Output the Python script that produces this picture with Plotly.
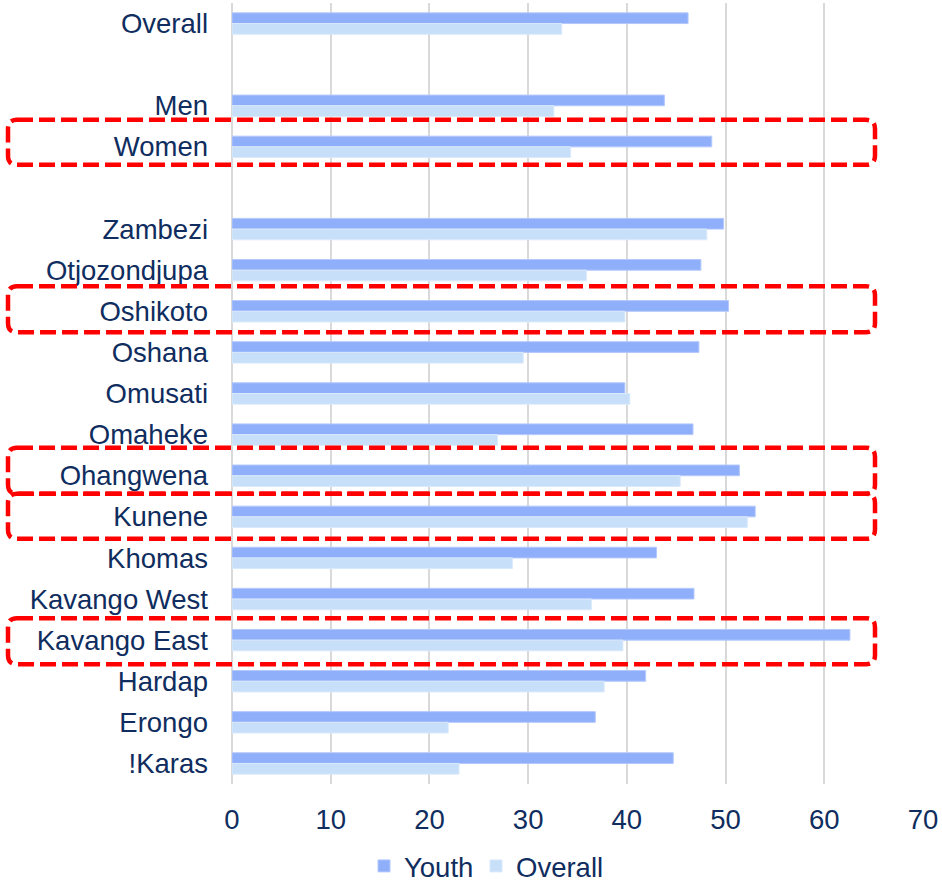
import plotly.graph_objects as go

# Rows from top to bottom; blank labels are spacer rows between groups
categories = ["Overall", "", "Men", "Women", " ",
              "Zambezi", "Otjozondjupa", "Oshikoto", "Oshana", "Omusati",
              "Omaheke", "Ohangwena", "Kunene", "Khomas", "Kavango West",
              "Kavango East", "Hardap", "Erongo", "!Karas"]
youth = [46.2, None, 43.8, 48.6, None,
         49.8, 47.5, 50.3, 47.3, 39.8,
         46.7, 51.4, 53.0, 43.0, 46.8,
         62.6, 41.9, 36.8, 44.7]
overall = [33.4, None, 32.6, 34.3, None,
           48.1, 35.9, 39.8, 29.5, 40.3,
           26.9, 45.4, 52.2, 28.4, 36.4,
           39.6, 37.7, 21.9, 23.0]
# Highlighted rows with the frame's extent above / below the row centre (px)
highlighted = [("Women", 27, 18), ("Oshikoto", 25, 21), ("Ohangwena", 28, 18),
               ("Kunene", 23, 22), ("Kavango East", 22, 24)]

TEXT = "#0F2D5E"
FONT = "Liberation Sans, Arial, sans-serif"
FS = 27.5
rows = list(range(len(categories)))
n_rows = len(categories)

# Page geometry
W, H = 942, 884
ml, mr, mt, mb = 232, 19, 3, 100
pw = W - ml - mr
ph = H - mt - mb
row_px = ph / n_rows


def px_x(x):
    return (x - ml) / pw


def px_y(y):
    return 1 - (y - mt) / ph


fig = go.Figure()
fig.add_trace(go.Bar(y=rows, x=youth, orientation="h", name="Youth", legend="legend",
                     marker=dict(color="#8FAFFB", line=dict(color="#B4C8FB", width=1))))
fig.add_trace(go.Bar(y=rows, x=overall, orientation="h", name="Overall", legend="legend2",
                     marker=dict(color="#C7DFF9", line=dict(color="#DAE9FB", width=1))))

# Dashed red rounded frames around highlighted rows, spanning the labels
left, right, rad = 8, 875, 9
shapes = []
for name, up, down in highlighted:
    yc = mt + (categories.index(name) + 0.5) * row_px
    top, bot = yc - up, yc + down
    pts = [
        f"M{px_x(left + rad)},{px_y(top)}",
        f"L{px_x(right - rad)},{px_y(top)}",
        f"Q{px_x(right)},{px_y(top)} {px_x(right)},{px_y(top + rad)}",
        f"L{px_x(right)},{px_y(bot - rad)}",
        f"Q{px_x(right)},{px_y(bot)} {px_x(right - rad)},{px_y(bot)}",
        f"L{px_x(left + rad)},{px_y(bot)}",
        f"Q{px_x(left)},{px_y(bot)} {px_x(left)},{px_y(bot - rad)}",
        f"L{px_x(left)},{px_y(top + rad)}",
        f"Q{px_x(left)},{px_y(top)} {px_x(left + rad)},{px_y(top)}",
        "Z",
    ]
    shapes.append(dict(type="path", xref="paper", yref="paper", path=" ".join(pts),
                       line=dict(color="#FF0000", width=4.5, dash="16px,6px")))

legend_style = dict(orientation="h", xanchor="left", y=px_y(866), yanchor="middle",
                    font=dict(size=FS, color=TEXT), itemwidth=30,
                    bgcolor="rgba(0,0,0,0)")

fig.update_layout(
    width=W, height=H,
    margin=dict(l=ml, r=mr, t=mt, b=mb, autoexpand=False),
    paper_bgcolor="white", plot_bgcolor="white",
    barmode="group", bargap=0.48, bargroupgap=0,
    font=dict(family=FONT, size=FS, color=TEXT),
    shapes=shapes,
    showlegend=True,
    legend=dict(x=px_x(364), **legend_style),
    legend2=dict(x=px_x(476), **legend_style),
)
fig.update_xaxes(range=[0, 70], dtick=10, showgrid=True, gridcolor="#D9D9D9", gridwidth=2,
                 zeroline=True, zerolinecolor="#D9D9D9", zerolinewidth=2,
                 showline=False, ticks="", ticklabelstandoff=16,
                 tickfont=dict(size=FS, color=TEXT))
fig.update_yaxes(range=[n_rows - 0.5, -0.5], tickmode="array", tickvals=rows,
                 ticktext=categories, showgrid=False, zeroline=False, ticks="",
                 ticklabelstandoff=23, tickfont=dict(size=FS, color=TEXT))

fig.write_html("out.html")
